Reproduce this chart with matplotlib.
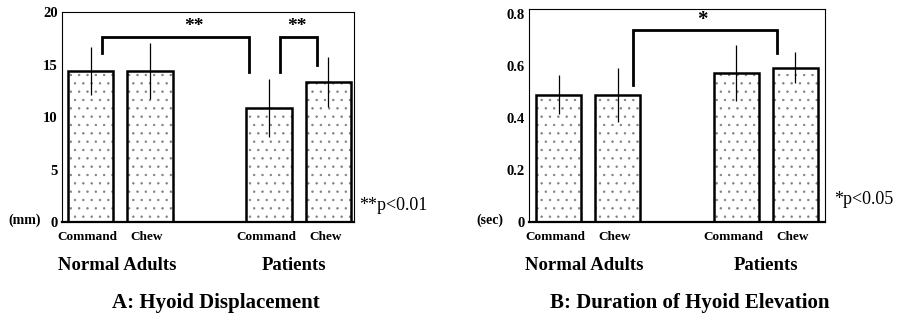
import matplotlib
matplotlib.use("Agg")
import matplotlib.pyplot as plt

plt.rcParams['font.family'] = ['Liberation Serif', 'DejaVu Serif']
plt.rcParams['hatch.linewidth'] = 0.5

# data
conditions = ["Command", "Chew", "Command", "Chew"]
groups = ["Normal Adults", "Patients"]
xpos = [0, 1, 3, 4]

disp_mean = [14.4, 14.4, 10.85, 13.35]
disp_err = [2.3, 2.65, 2.75, 2.35]

dur_mean = [0.49, 0.49, 0.575, 0.595]
dur_err = [0.075, 0.105, 0.108, 0.06]


def draw_panel(ax, means, errs, ylim, yticks, yticklabels):
    ax.bar(xpos, means, width=0.76, color="white", edgecolor="#808080",
           hatch="..", linewidth=0, zorder=1)
    ax.bar(xpos, means, width=0.76, fill=False, edgecolor="black",
           linewidth=1.8, zorder=2)
    ax.errorbar(xpos, means, yerr=errs, fmt="none", ecolor="black",
                elinewidth=0.9, capsize=0, zorder=3)
    ax.set_ylim(*ylim)
    ax.set_yticks(yticks)
    ax.set_yticklabels(yticklabels, fontweight="bold", fontsize=10.5)
    ax.set_xticks([])
    ax.tick_params(axis="y", length=0, pad=3)
    for s in ["top", "left", "right"]:
        ax.spines[s].set_linewidth(0.8)
    ax.spines["bottom"].set_linewidth(1.6)
    for x, c in zip(xpos, conditions):
        ax.text(x - 0.05, -0.07, c, transform=ax.get_xaxis_transform(),
                ha="center", va="center", fontsize=9.5, fontweight="bold")


def bracket(ax, x1, x2, y1, y2, ytop):
    ax.plot([x1, x1, x2, x2], [y1, ytop, ytop, y2], color="black",
            lw=2.0, solid_joinstyle="miter", zorder=4, clip_on=False)


fig = plt.figure(figsize=(8.97, 3.2), dpi=100)

# panel A
axA = fig.add_axes([0.0691, 0.306, 0.3255, 0.6565])
draw_panel(axA, disp_mean, disp_err, (0, 20), [0, 5, 10, 15, 20],
           ["0", "5", "10", "15", "20"])
axA.set_xlim(-0.48, 4.43)
bracket(axA, 0.19, 2.66, 16.1, 14.3, 17.65)
bracket(axA, 3.18, 3.81, 14.3, 15.0, 17.65)
axA.text(1.74, 18.6, "**", ha="center", va="center", fontsize=14,
         fontweight="bold")
axA.text(3.47, 18.6, "**", ha="center", va="center", fontsize=14,
         fontweight="bold")
fig.text(8 / 897, 1 - 220 / 320, "(mm)", ha="left", va="center",
         fontsize=10, fontweight="bold")
fig.text(359 / 897, 1 - 205 / 320, "**p<0.01", ha="left", va="center",
         fontsize=13)
fig.text(117 / 897, 1 - 266 / 320, groups[0], ha="center", va="center",
         fontsize=13.5, fontweight="bold")
fig.text(294 / 897, 1 - 266 / 320, groups[1], ha="center", va="center",
         fontsize=13.5, fontweight="bold")
fig.text(216 / 897, 1 - 303 / 320, "A: Hyoid Displacement", ha="center",
         va="center", fontsize=15, fontweight="bold")

# panel B
axB = fig.add_axes([0.5894, 0.307, 0.330, 0.664])
draw_panel(axB, dur_mean, dur_err, (0, 0.82), [0, 0.2, 0.4, 0.6, 0.8],
           ["0", "0.2", "0.4", "0.6", "0.8"])
axB.set_xlim(-0.51, 4.5)
bracket(axB, 1.25, 3.70, 0.526, 0.65, 0.74)
axB.text(2.43, 0.78, "*", ha="center", va="center", fontsize=15,
         fontweight="bold")
fig.text(490 / 897, 1 - 220 / 320, "(sec)", ha="center", va="center",
         fontsize=10, fontweight="bold")
fig.text(834 / 897, 1 - 200 / 320, "*p<0.05", ha="left", va="center",
         fontsize=13)
fig.text(584 / 897, 1 - 265 / 320, groups[0], ha="center", va="center",
         fontsize=13.5, fontweight="bold")
fig.text(766 / 897, 1 - 265 / 320, groups[1], ha="center", va="center",
         fontsize=13.5, fontweight="bold")
fig.text(690 / 897, 1 - 303 / 320, "B: Duration of Hyoid Elevation",
         ha="center", va="center", fontsize=15, fontweight="bold")

fig.savefig("out.png", dpi=100)
